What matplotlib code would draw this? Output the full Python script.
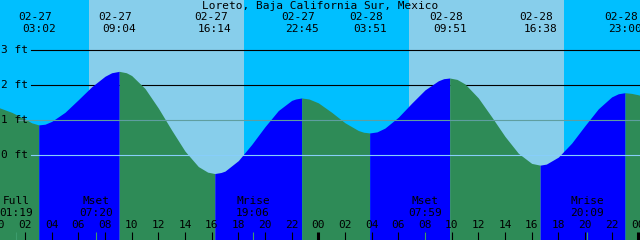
import numpy as np
import matplotlib
matplotlib.use("Agg")
from matplotlib import pyplot as plt

title = "Loreto, Baja California Sur, Mexico"

# high / low tide events
tide_dates = ["02-27", "02-27", "02-27", "02-27", "02-28", "02-28", "02-28", "02-28"]
tide_times = ["03:02", "09:04", "16:14", "22:45", "03:51", "09:51", "16:38", "23:00"]
tide_ft = [0.86, 2.39, -0.53, 1.63, 0.63, 2.20, -0.29, 1.78]

# water level (hours after 02-27 00:00, feet)
curve_hours = [0, 1, 2, 2.5, 3.5, 4, 5, 6, 7, 8, 8.5, 9.6, 10, 11, 12, 13, 14, 15,
               15.7, 16.7, 17, 18, 19, 20, 21, 22, 22.3, 23.3, 24, 25, 26, 27, 27.4,
               28.4, 29, 30, 31, 32, 33, 33.4, 34.4, 35, 36, 37, 38, 39, 40, 41.1,
               42, 43, 44, 45, 46, 46.5, 47.5, 48, 48.3]
curve_ft = [1.36, 1.22, 1.03, 0.92, 0.88, 0.96, 1.22, 1.58, 1.95, 2.25, 2.35, 2.35,
            2.27, 1.90, 1.34, 0.71, 0.11, -0.33, -0.49, -0.50, -0.46, -0.16, 0.30,
            0.81, 1.27, 1.56, 1.60, 1.60, 1.49, 1.22, 0.92, 0.70, 0.65, 0.66, 0.77,
            1.08, 1.48, 1.86, 2.12, 2.18, 2.16, 2.03, 1.63, 1.09, 0.53, 0.05, -0.24,
            -0.26, -0.06, 0.34, 0.84, 1.32, 1.66, 1.75, 1.76, 1.72, 1.69]

# sunrise / sunset (hours after 02-27 00:00)
sunrise = [6.80, 30.80]
sunset = [18.43, 42.43]

# moon events
moon_names = ["Full", "Mset", "Mrise", "Mset", "Mrise"]
moon_dates = ["02-27", "02-27", "02-27", "02-28", "02-28"]
moon_times = ["01:19", "07:20", "19:06", "07:59", "20:09"]

height_labels = [3, 2, 1, 0]

DAY = "#87ceeb"
NIGHT = "#00bfff"
FLOOD = "#0000ff"
EBB = "#2e8b57"
FONT = dict(family="DejaVu Sans Mono", size=8)


def to_hours(date, time):
    day = int(date.split("-")[1]) - 27
    hh, mm = time.split(":")
    return day * 24 + int(hh) + int(mm) / 60


def py(ypix):
    # pixel row -> axes fraction
    return 1 - ypix / 240


tide_hours = [to_hours(d, t) for d, t in zip(tide_dates, tide_times)]
moon_hours = [to_hours(d, t) for d, t in zip(moon_dates, moon_times)]

t = np.array(curve_hours + tide_hours)
h = np.array(curve_ft + tide_ft)
order = np.argsort(t)
t, h = t[order], h[order]

t0 = 0.125
ybot = -85 / 35
ytop = 155 / 35

fig = plt.figure(figsize=(6.4, 2.4), dpi=100)
ax = fig.add_axes([0, 0, 1, 1])
ax.set_xlim(t0, t0 + 48)
ax.set_ylim(ybot, ytop)
ax.axis("off")

# day / night sky
edges = [t0 - 1] + sorted(sunrise + sunset) + [t0 + 49]
for i in range(len(edges) - 1):
    ax.axvspan(edges[i], edges[i + 1], color=NIGHT if i % 2 == 0 else DAY, lw=0, zorder=0)

# upper height lines sit behind the water
for v in height_labels:
    if v >= 2:
        ax.axhline(v, xmin=31 / 640, color="black", lw=0.8, zorder=1)

# water: rising = blue, falling = green
bounds = [t[0]] + tide_hours + [t[-1]]
for a, b in zip(bounds[:-1], bounds[1:]):
    m = (t >= a) & (t <= b)
    rising = np.interp(b, t, h) > np.interp(a, t, h)
    ax.fill_between(t[m], h[m], ybot, color=FLOOD if rising else EBB, lw=0, zorder=2)

ax.axhline(1, xmin=17 / 640, color="#5f9ea0", lw=0.8, zorder=3)
ax.axhline(0, xmin=31 / 640, color="#87cefa", lw=0.8, zorder=3)

for v in height_labels:
    ax.text(1 / 640, v, f"{v} ft", transform=ax.get_yaxis_transform(),
            ha="left", va="center", zorder=5, **FONT)

xt = ax.get_xaxis_transform()
ax.text(0.5, py(6), title, transform=ax.transAxes, ha="center", va="center", zorder=5, **FONT)
for hr, d, tm in zip(tide_hours, tide_dates, tide_times):
    ax.text(hr - 0.3, py(17.5), d, transform=xt, ha="center", va="center",
            clip_on=True, zorder=5, **FONT)
    ax.text(hr, py(29.5), tm, transform=xt, ha="center", va="center",
            clip_on=True, zorder=5, **FONT)

# hour ticks along the bottom
for hr in range(0, 50, 2):
    ax.text(hr, py(225), f"{hr % 24:02d}", transform=xt, ha="center", va="center",
            clip_on=True, zorder=5, **FONT)
    ax.plot([hr, hr], [py(232), 0], transform=xt, color="black",
            lw=2.2 if hr % 24 == 0 else 0.8, solid_capstyle="butt", zorder=5)

# moon events
for hr, name, tm in zip(moon_hours, moon_names, moon_times):
    ax.text(hr, py(201), name, transform=xt, ha="center", va="center",
            clip_on=True, zorder=5, **FONT)
    ax.text(hr, py(213), tm, transform=xt, ha="center", va="center",
            clip_on=True, zorder=5, **FONT)
    ax.plot([hr, hr], [py(232), 0], transform=xt, color="#3c9c6c", lw=0.8,
            solid_capstyle="butt", zorder=5)

fig.savefig("out.png", dpi=100)
